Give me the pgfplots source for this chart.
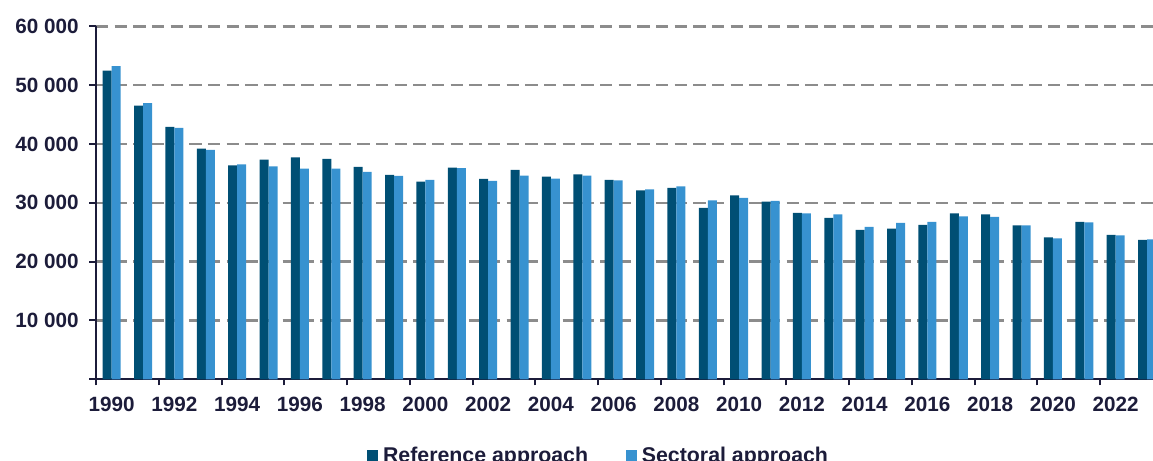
\documentclass[border=0pt]{standalone}
\usepackage{pgfplots}
\pgfplotsset{compat=1.18}
\usepackage{fontspec}
\setmainfont{Liberation Sans}
\definecolor{refc}{HTML}{004F74}
\definecolor{secc}{HTML}{3792D0}
\definecolor{txt}{HTML}{1C1C3A}
\definecolor{gridc}{HTML}{8C8C8C}
\begin{document}
\begin{tikzpicture}
\begin{axis}[
  scale only axis, width=792.75pt, height=264.75pt,
  xmin=-0.5, xmax=33.189, ymin=0, ymax=60000,
  axis x line*=bottom, axis y line*=left,
  axis line style={txt, line width=1.5pt},
  scaled y ticks=false,
  ytick={10000,20000,30000,40000,50000,60000},
  yticklabels={10 000,20 000,30 000,40 000,50 000,60 000},
  extra y ticks={0}, extra y tick labels={}, extra y tick style={grid=none},
  xtick={0,2,...,32},
  xticklabels={1990,1992,1994,1996,1998,2000,2002,2004,2006,2008,2010,2012,2014,2016,2018,2020,2022},
  minor xtick={-0.5,1.5,...,31.5},
  major x tick style={draw=none},
  minor x tick style={txt, line width=1.5pt},
  y tick style={txt, line width=1.5pt},
  tick align=outside,
  major tick length=5pt, minor tick length=4.5pt,
  ymajorgrids,
  y grid style={gridc, line width=1.9pt, dash pattern=on 9.2pt off 4.8pt},
  tick label style={font=\bfseries\fontsize{15.5}{18}\selectfont, text=txt},
  yticklabel style={xshift=-4.5pt},
  xticklabel style={yshift=-5pt},
  legend columns=2,
  legend style={draw=none, fill=none, inner sep=0pt, at={(0.4745,-0.19)}, anchor=north,
    font=\bfseries\fontsize{16}{18}\selectfont, text=txt,
    nodes={inner sep=0pt},
    /tikz/every odd column/.append style={column sep=3.75pt},
    /tikz/every even column/.append style={column sep=28.3pt}},
  legend image code/.code={\draw[#1,draw=none] (0pt,-4.1pt) rectangle (8.25pt,4.1pt);},
]
\addplot[ybar, bar width=0.287, bar shift=-0.1435, fill=refc, draw=none] coordinates {
(0,52460) (1,46510) (2,42890) (3,39200) (4,36380) (5,37330) (6,37740) (7,37450) (8,36090) (9,34730)
(10,33590) (11,35970) (12,34050) (13,35580) (14,34440) (15,34850) (16,33880) (17,32130) (18,32520) (19,29120)
(20,31280) (21,30190) (22,28270) (23,27420) (24,25380) (25,25600) (26,26230) (27,28220) (28,28050) (29,26180)
(30,24140) (31,26740) (32,24530) (33,23680)};
\addplot[ybar, bar width=0.287, bar shift=0.1435, fill=secc, draw=none] coordinates {
(0,53250) (1,46920) (2,42720) (3,38980) (4,36550) (5,36210) (6,35800) (7,35800) (8,35240) (9,34560)
(10,33880) (11,35890) (12,33710) (13,34610) (14,34100) (15,34610) (16,33830) (17,32300) (18,32810) (19,30430)
(20,30820) (21,30310) (22,28220) (23,28050) (24,25890) (25,26570) (26,26740) (27,27710) (28,27590) (29,26180)
(30,23970) (31,26690) (32,24480) (33,23800)};
\legend{Reference approach, Sectoral approach}
\coordinate (O) at (rel axis cs:0,0);
\coordinate (T) at (rel axis cs:1,1);
\end{axis}
\pgfresetboundingbox
\path[use as bounding box] ([xshift=-72pt,yshift=-61.275pt]O) rectangle ([yshift=19.725pt]T);
\end{tikzpicture}
\end{document}
